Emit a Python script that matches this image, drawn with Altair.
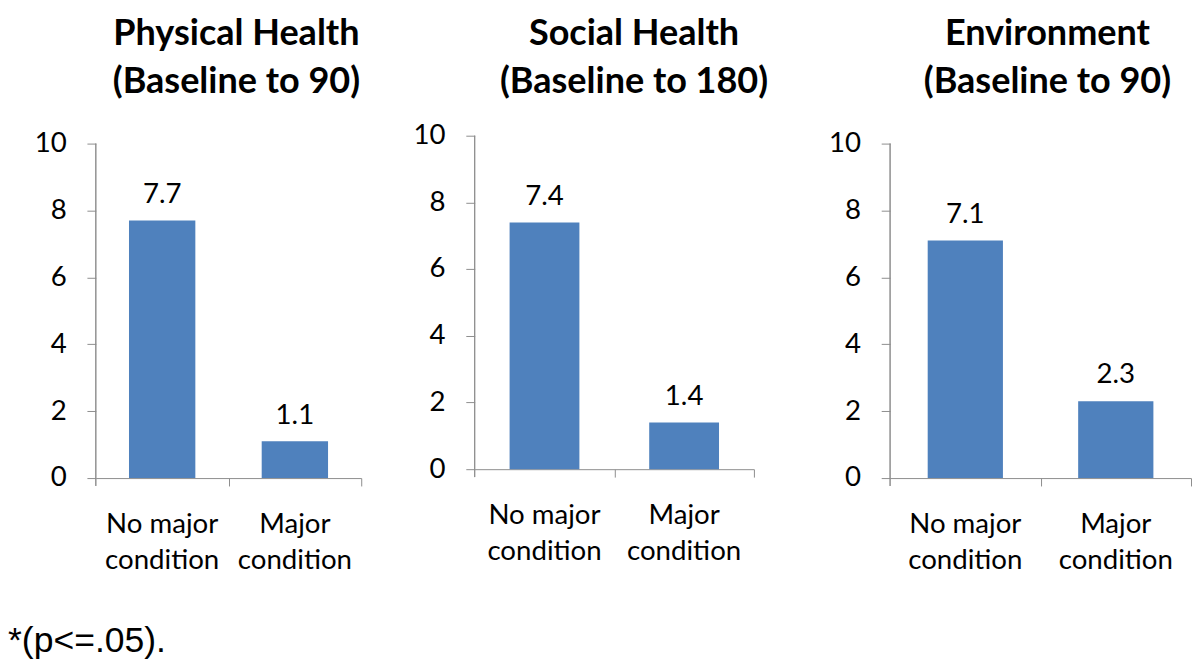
import altair as alt
import pandas as pd

# ---- data ----
panel_titles = [
    ["Physical Health", "(Baseline to 90)"],
    ["Social Health", "(Baseline to 180)"],
    ["Environment", "(Baseline to 90)"],
]
categories = ["No major condition", "Major condition"]
physical = [7.7, 1.1]
social = [7.4, 1.4]
environment = [7.1, 2.3]
y_ticks = [0, 2, 4, 6, 8, 10]
y_max = 10
footnote = "*(p<=.05)."

BLUE = "#4F81BD"
GRAY = "#8C8C8C"
FONT = "Lato"
TICK = 8

label_expr = ("datum.label == 'No major condition' ? ['No major', 'condition'] : "
              "['Major', 'condition']")


def panel(title_lines, values, width, axis_height, extra_top, extent,
          title_offset, title_dx):
    """axis_height: pixel length of the 0-10 axis; extra_top: empty space above 10."""
    df = pd.DataFrame({"condition": categories, "value": values})
    height = axis_height + extra_top
    top = y_max * height / axis_height
    below = -y_max * TICK / axis_height  # axis line runs a tick-length below 0
    scale_x = alt.Scale(paddingInner=0.5, paddingOuter=0.25)
    y = alt.Y(
        "value:Q", title=None, scale=alt.Scale(domain=[0, top], nice=False),
        axis=alt.Axis(
            values=y_ticks, grid=False, domain=False, tickSize=9,
            labelPadding=21, minExtent=extent, maxExtent=extent,
            labelFont=FONT, labelFontSize=28, labelColor="black",
            tickColor=GRAY, tickWidth=1,
        ),
    )
    # axis carrying the labels (centred under the bars)
    x_labels = alt.X(
        "condition:N", sort=categories, title=None, scale=scale_x,
        axis=alt.Axis(
            orient="bottom", labelAngle=0, ticks=False, domain=False,
            labelPadding=33, labelFont=FONT, labelFontSize=28,
            labelColor="black", labelLineHeight=37, labelExpr=label_expr,
        ),
    )
    # axis carrying the domain line and the category-boundary ticks
    x_ticks = alt.X(
        "condition:N", sort=categories, title=None, scale=scale_x,
        axis=alt.Axis(
            orient="bottom", labels=False, bandPosition=0.5, tickExtra=False,
            tickOffset=width / 4, tickSize=TICK,
            domainColor=GRAY, tickColor=GRAY, domainWidth=1, tickWidth=1,
        ),
    )
    bars = alt.Chart(df).mark_bar(color=BLUE).encode(x=x_labels, y=y)
    text = alt.Chart(df).mark_text(
        dy=-18, baseline="alphabetic", font=FONT, fontSize=28, color="black"
    ).encode(x=x_ticks, y=y, text=alt.Text("value:Q", format=".1f"))
    # vertical axis line from 0 to 10 only
    axis_line = alt.Chart(df).mark_rule(color=GRAY, strokeWidth=1).encode(
        x=alt.value(0), y=alt.datum(below), y2=alt.datum(y_max)
    )
    layered = alt.layer(bars, text, axis_line).resolve_axis(x="independent").properties(
        width=width, height=height,
        title=alt.TitleParams(
            title_lines, font=FONT, fontSize=36.5, fontWeight="bold",
            lineHeight=48, offset=title_offset, dx=title_dx,
            anchor="middle", frame="group", color="black",
        ),
    )
    return layered


p1 = panel(panel_titles[0], physical, 269, 339, 8, 89, 30, 8)
p2 = panel(panel_titles[1], social, 283, 338, 0, 62, 22, 20)
p3 = panel(panel_titles[2], environment, 305, 339, 8, 72, 30, 7)

chart = alt.hconcat(p1, p2, p3, spacing=51).properties(
    padding={"left": 0, "top": 4, "right": 0, "bottom": 0},
    title=alt.TitleParams(
        footnote, orient="bottom", anchor="start", font="Liberation Sans",
        fontSize=36, fontWeight="normal", color="black", offset=50,
    ),
).configure_view(stroke=None)

chart.save("out.html", embed_options={"renderer": "svg", "actions": False})
